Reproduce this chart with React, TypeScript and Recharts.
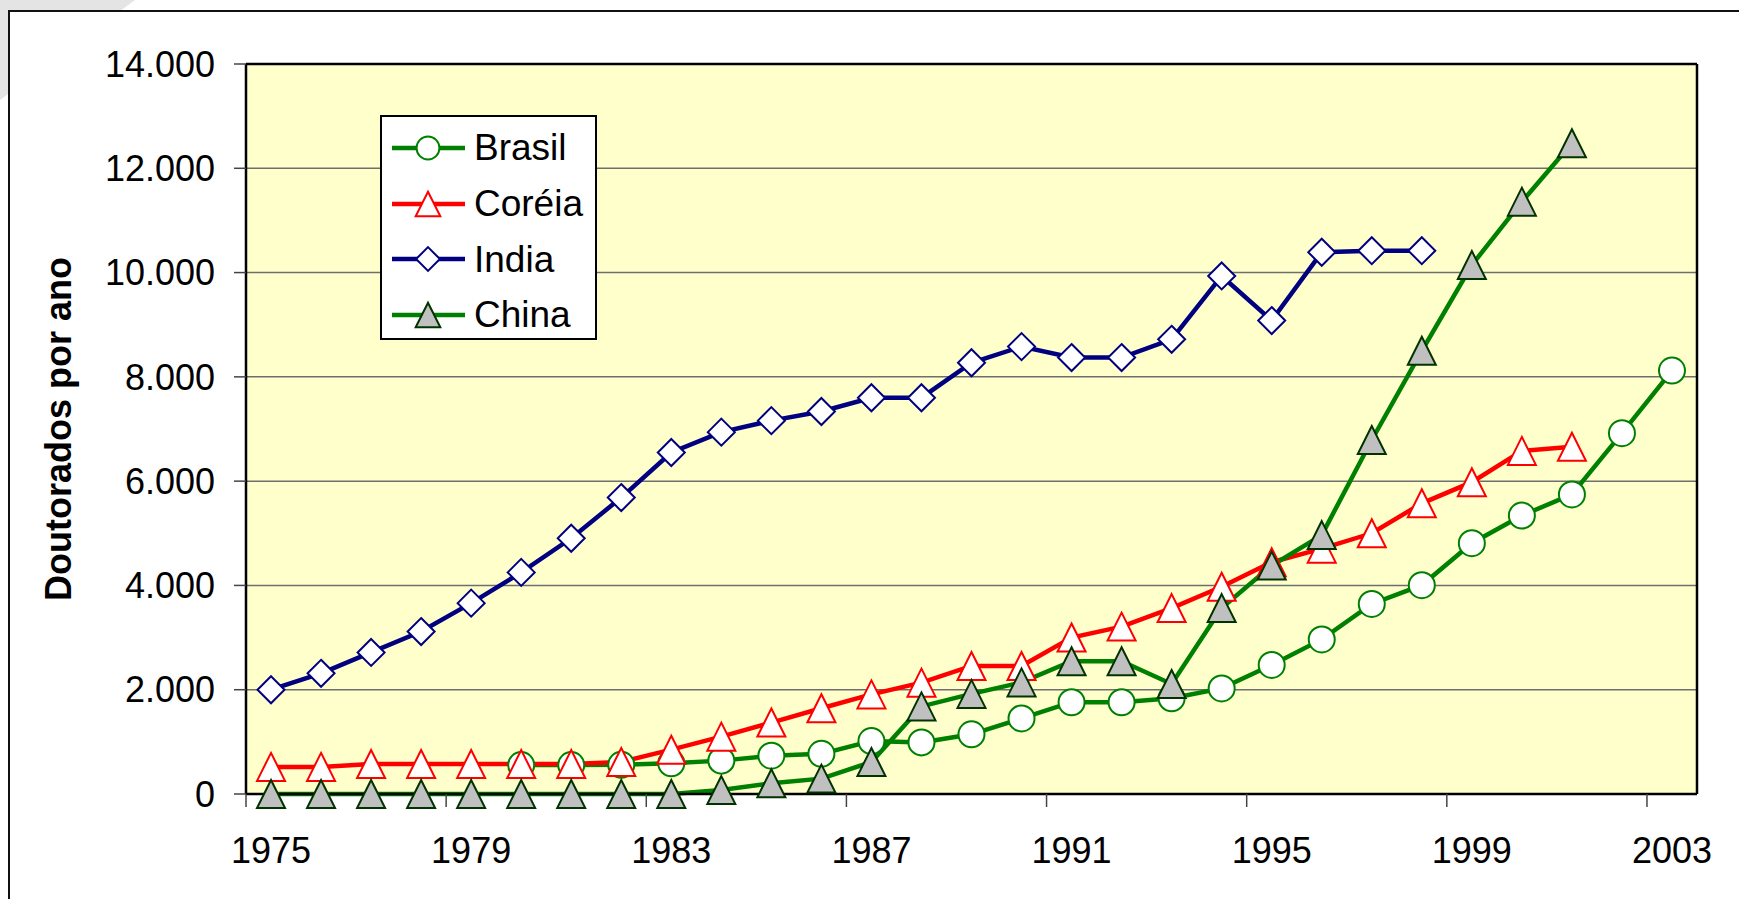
import React from 'react';
import { ComposedChart, Line, XAxis, YAxis, CartesianGrid, Legend } from 'recharts';

// doutorados concedidos por ano (leitura do gráfico)
const years = [
  '1975', '1976', '1977', '1978', '1979', '1980', '1981', '1982', '1983', '1984',
  '1985', '1986', '1987', '1988', '1989', '1990', '1991', '1992', '1993', '1994',
  '1995', '1996', '1997', '1998', '1999', '2000', '2001', '2002', '2003',
];
const brasil = [
  null, null, null, null, null, 555, 555, 560, 590, 640,
  735, 770, 1015, 990, 1145, 1450, 1760, 1760, 1835, 2025,
  2475, 2965, 3645, 4005, 4810, 5340, 5745, 6920, 8120,
];
const coreia = [
  520, 520, 575, 575, 575, 575, 575, 615, 850, 1100,
  1370, 1645, 1910, 2135, 2455, 2455, 3000, 3210, 3565, 3975,
  4445, 4705, 5000, 5575, 5980, 6580, 6660, null, null,
];
const india = [
  2000, 2315, 2715, 3115, 3660, 4250, 4905, 5685, 6550, 6940,
  7160, 7335, 7600, 7600, 8270, 8580, 8370, 8370, 8720, 9935,
  9080, 10390, 10420, 10420, null, null, null, null, null,
];
const china = [
  0, 0, 0, 0, 0, 0, 0, 0, 0, 75,
  205, 295, 615, 1680, 1920, 2140, 2545, 2545, 2110, 3565,
  4380, 4965, 6790, 8500, 10145, 11360, 12480, null, null,
];
const yTicks = [0, 2000, 4000, 6000, 8000, 10000, 12000, 14000];

const W = 1739;
const H = 899;
// the 1px top/right axes only draw the plot-area frame
const MARGIN = { top: 63, right: 41, bottom: 45, left: 0 };
const Y_AXIS_W = 246;
const X_AXIS_H = 60;
const BAND = (W - MARGIN.left - MARGIN.right - 1 - Y_AXIS_W) / years.length;
const TICK_SIZE = 12;
const X_TICK_MARGIN = 31;
const FONT = "'Liberation Sans', Arial, sans-serif";

type Shape = 'circle' | 'triangle' | 'diamond';

const SERIES: { key: string; name: string; color: string; shape: Shape; fill: string; stroke: string }[] = [
  { key: 'brasil', name: 'Brasil', color: '#008000', shape: 'circle', fill: '#FFFFFF', stroke: '#008000' },
  { key: 'coreia', name: 'Coréia', color: '#FF0000', shape: 'triangle', fill: '#FFFFFF', stroke: '#FF0000' },
  { key: 'india', name: 'India', color: '#000080', shape: 'diamond', fill: '#FFFFFF', stroke: '#000080' },
  { key: 'china', name: 'China', color: '#008000', shape: 'triangle', fill: '#C0C0C0', stroke: '#003300' },
];

const chartData = years.map((year, i) => ({
  year,
  brasil: brasil[i],
  coreia: coreia[i],
  india: india[i],
  china: china[i],
}));

const formatThousands = (v: number) => String(v).replace(/\B(?=(\d{3})+(?!\d))/g, '.');

function Marker({ shape, cx, cy, fill, stroke, scale = 1 }: any) {
  const h = 14 * scale;
  if (shape === 'circle') {
    return <circle cx={cx} cy={cy} r={13 * scale} fill={fill} stroke={stroke} strokeWidth={2} />;
  }
  if (shape === 'diamond') {
    const d = 13.5 * scale;
    return (
      <polygon
        points={`${cx},${cy - d} ${cx + d},${cy} ${cx},${cy + d} ${cx - d},${cy}`}
        fill={fill}
        stroke={stroke}
        strokeWidth={2}
      />
    );
  }
  return (
    <polygon
      points={`${cx},${cy - h} ${cx + h},${cy + h} ${cx - h},${cy + h}`}
      fill={fill}
      stroke={stroke}
      strokeWidth={2}
      strokeLinejoin="miter"
    />
  );
}

const makeDot = (s: (typeof SERIES)[number]) => (props: any) => {
  const { cx, cy, value, index } = props;
  if (value === null || value === undefined || cx == null || cy == null) {
    return <g key={`${s.key}-${index}`} />;
  }
  return (
    <g key={`${s.key}-${index}`}>
      <Marker shape={s.shape} cx={cx} cy={cy} fill={s.fill} stroke={s.stroke} />
    </g>
  );
};

// year label in the middle of the category, tick mark on its left edge
const YearTick = (props: any) => {
  const { x, y, payload } = props;
  const axisY = y - TICK_SIZE - X_TICK_MARGIN;
  const edge = x - BAND / 2;
  return (
    <g>
      <line x1={edge} x2={edge} y1={axisY} y2={axisY + TICK_SIZE + 1} stroke="#444" strokeWidth={1.5} />
      <text x={x} y={y} dy="0.71em" textAnchor="middle" fontSize={36} fontFamily={FONT} fill="#000">
        {payload.value}
      </text>
    </g>
  );
};

const yTitle = (props: any) => {
  const vb = props.viewBox || { x: 0, y: 64, width: Y_AXIS_W, height: 730 };
  return (
    <text
      transform={`translate(${vb.x + 71}, ${vb.y + vb.height / 2}) rotate(-90)`}
      textAnchor="middle"
      fontSize={36}
      fontWeight="bold"
      fontFamily={FONT}
      fill="#000"
    >
      Doutorados por ano
    </text>
  );
};

const LegendBox = () => (
  <div
    style={{
      width: 217,
      height: 225,
      boxSizing: 'border-box',
      border: '2px solid #000',
      background: '#FFFFFF',
      paddingTop: 3,
      fontFamily: FONT,
    }}
  >
    {SERIES.map((s) => (
      <div key={s.key} style={{ display: 'flex', alignItems: 'center', height: 55.7 }}>
        <svg width={92} height={56} style={{ flex: 'none' }}>
          <line x1={10} x2={83} y1={28} y2={28} stroke={s.color} strokeWidth={4.5} />
          <Marker shape={s.shape} cx={46} cy={28} fill={s.fill} stroke={s.stroke} scale={0.88} />
        </svg>
        <span style={{ fontSize: 37, color: '#000', lineHeight: 1 }}>{s.name}</span>
      </div>
    ))}
  </div>
);

export default function App() {
  return (
    <div
      style={{
        position: 'absolute',
        left: 0,
        top: 0,
        width: W,
        height: H,
        overflow: 'hidden',
        background: '#FFFFFF',
        fontFamily: FONT,
      }}
    >
      <svg width={W} height={H} style={{ position: 'absolute', left: 0, top: 0 }}>
        <polygon points="0,0 135,0 0,100" fill="#E4E4E4" />
      </svg>
      <div
        style={{
          position: 'absolute',
          left: 8,
          top: 10,
          width: W + 40,
          height: H + 40,
          border: '2px solid #111',
          background: '#FFFFFF',
        }}
      />
      <div style={{ position: 'absolute', left: 0, top: 0 }}>
        <ComposedChart width={W} height={H} data={chartData} margin={MARGIN}>
          <CartesianGrid vertical={false} fill="#FFFFCC" stroke="#6E6E6E" strokeWidth={1.5} />
          <XAxis
            dataKey="year"
            scale="band"
            height={X_AXIS_H}
            interval={3}
            tickLine={false}
            tickSize={TICK_SIZE}
            tickMargin={X_TICK_MARGIN}
            tick={<YearTick />}
            axisLine={{ stroke: '#000', strokeWidth: 2.5 }}
          />
          <XAxis
            xAxisId="top"
            dataKey="year"
            scale="band"
            orientation="top"
            height={1}
            tick={false}
            tickLine={false}
            axisLine={{ stroke: '#000', strokeWidth: 2.5 }}
          />
          <YAxis
            width={Y_AXIS_W}
            domain={[0, 14000]}
            ticks={yTicks}
            interval={0}
            tickFormatter={formatThousands}
            tickSize={TICK_SIZE}
            tickMargin={19}
            tickLine={{ stroke: '#444', strokeWidth: 1.5 }}
            axisLine={{ stroke: '#000', strokeWidth: 2.5 }}
            tick={{ fontSize: 36, fill: '#000', fontFamily: FONT }}
            label={yTitle}
          />
          <YAxis
            yAxisId="right"
            orientation="right"
            width={1}
            domain={[0, 14000]}
            tick={false}
            tickLine={false}
            axisLine={{ stroke: '#000', strokeWidth: 2.5 }}
          />
          <Legend
            layout="vertical"
            align="center"
            verticalAlign="middle"
            content={<LegendBox />}
            wrapperStyle={{ left: 380, top: 115, width: 217, height: 225, bottom: 'auto', right: 'auto' }}
          />
          {SERIES.map((s) => (
            <Line
              key={s.key}
              type="linear"
              dataKey={s.key}
              name={s.name}
              stroke={s.color}
              strokeWidth={4.5}
              dot={makeDot(s)}
              activeDot={false}
              connectNulls={false}
              isAnimationActive={false}
            />
          ))}
        </ComposedChart>
      </div>
    </div>
  );
}
